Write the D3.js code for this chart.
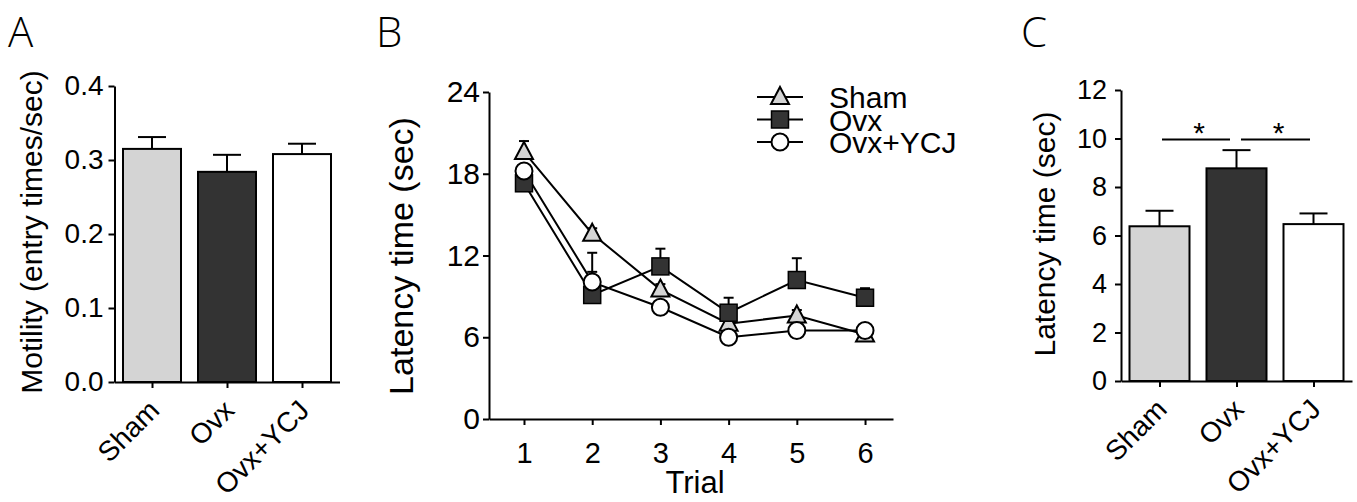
<!DOCTYPE html>
<html>
<head>
<meta charset="utf-8">
<script src="https://cdn.jsdelivr.net/npm/d3@7"></script>
<style>
  body { margin: 0; background: #fff; }
  svg { display: block; font-family: "Liberation Sans", Arial, sans-serif; }
</style>
</head>
<body>
<div id="chart"></div>
<script>
// Panel data
const groups = ["Sham", "Ovx", "Ovx+YCJ"];
const groupFill = ["#d4d4d4", "#333333", "#ffffff"];

// A: motility
const motility = [0.315, 0.284, 0.308];
const motilityErr = [0.331, 0.307, 0.322];   // top of error bar
const motilityTicks = [0, 0.1, 0.2, 0.3, 0.4];

// B: latency over trials
const trials = [1, 2, 3, 4, 5, 6];
const shamLatency = [19.6, 13.6, 9.5, 7.0, 7.6, 6.2];
const shamLatencyErr = [20.4, 14.0, 9.9, 7.3, 8.0, 6.4];
const ovxLatency = [17.3, 9.1, 11.2, 7.8, 10.2, 8.9];
const ovxLatencyErr = [17.8, 10.8, 12.5, 8.9, 11.8, 9.6];
const ycjLatency = [18.2, 10.05, 8.2, 6.0, 6.5, 6.5];
const ycjLatencyErr = [18.6, 12.2, 8.5, 6.4, 6.8, 6.8];
const latencyTicks = [0, 6, 12, 18, 24];

// C: latency per group
const latency = [6.38, 8.77, 6.47];
const latencyErr = [7.02, 9.52, 6.91];
const latencyCTicks = [0, 2, 4, 6, 8, 10, 12];

const width = 1357;
const height = 502;

const svg = d3.select("#chart")
  .append("svg")
  .attr("width", width)
  .attr("height", height);

function styleAxis(g, size) {
  g.selectAll("path, line").attr("stroke", "#000").attr("stroke-width", 2);
  g.selectAll("text").attr("fill", "#000").style("font-size", size + "px");
  g.attr("font-family", null);
}

function panelLetter(x, text) {
  svg.append("text")
    .attr("x", x)
    .attr("y", 47)
    .style("font-family", "'Open Sans', 'Liberation Sans', sans-serif")
    .style("font-weight", 300)
    .style("font-size", "42px")
    .text(text);
}

function yLabel(x, y, size, text) {
  svg.append("text")
    .attr("transform", `translate(${x},${y}) rotate(-90)`)
    .attr("text-anchor", "middle")
    .style("font-size", size + "px")
    .text(text);
}

function barPanel(opts) {
  const x = d3.scalePoint().domain(groups).range(opts.xRange).padding(0.5);
  const y = d3.scaleLinear().domain(opts.yDomain).range(opts.yRange);

  // error bars (upward only)
  groups.forEach((g, i) => {
    svg.append("line")
      .attr("x1", x(g)).attr("x2", x(g))
      .attr("y1", y(opts.values[i])).attr("y2", y(opts.errs[i]))
      .attr("stroke", "#000").attr("stroke-width", 2);
    svg.append("line")
      .attr("x1", x(g) - 14).attr("x2", x(g) + 14)
      .attr("y1", y(opts.errs[i])).attr("y2", y(opts.errs[i]))
      .attr("stroke", "#000").attr("stroke-width", 2);
  });

  svg.selectAll(null)
    .data(opts.values)
    .enter()
    .append("rect")
    .attr("x", (d, i) => x(groups[i]) - opts.barW / 2)
    .attr("width", opts.barW)
    .attr("y", d => y(d))
    .attr("height", d => y(0) - y(d))
    .attr("fill", (d, i) => groupFill[i])
    .attr("stroke", "#000")
    .attr("stroke-width", 2);

  const yAxis = svg.append("g")
    .attr("transform", `translate(${opts.xRange[0]},0)`)
    .call(d3.axisLeft(y).tickValues(opts.ticks).tickFormat(opts.format)
      .tickSize(6).tickSizeOuter(0).tickPadding(opts.pad));
  styleAxis(yAxis, opts.tickFont);

  const xAxis = svg.append("g")
    .attr("transform", `translate(0,${y(0)})`)
    .call(d3.axisBottom(x).tickSize(6).tickSizeOuter(0).tickFormat(""));
  styleAxis(xAxis, opts.tickFont);

  groups.forEach(g => {
    svg.append("text")
      .attr("transform", `translate(${x(g) + 9},${y(0) + 30}) rotate(-45)`)
      .attr("text-anchor", "end")
      .style("font-size", "28px")
      .text(g);
  });
  return { x, y };
}

// ---------- Panel A ----------
panelLetter(8, "A");
barPanel({
  xRange: [114.5, 339.5], yDomain: [0, 0.4], yRange: [382, 86],
  values: motility, errs: motilityErr, ticks: motilityTicks,
  format: d3.format(".1f"), barW: 58, pad: 5, tickFont: 28
});
yLabel(42, 232, 30, "Motility (entry times/sec)");

// ---------- Panel B ----------
panelLetter(376, "B");
const xB = d3.scaleLinear().domain([0.487, 6.41]).range([489, 893]);
const yB = d3.scaleLinear().domain([0, 24]).range([419, 92]);

const series = [
  { name: "Sham", values: shamLatency, errs: shamLatencyErr, shape: "triangle", fill: "#d4d4d4" },
  { name: "Ovx", values: ovxLatency, errs: ovxLatencyErr, shape: "square", fill: "#333333" },
  { name: "Ovx+YCJ", values: ycjLatency, errs: ycjLatencyErr, shape: "circle", fill: "#ffffff" }
];

const line = d3.line()
  .x((d, i) => xB(trials[i]))
  .y(d => yB(d));

series.forEach(s => {
  svg.append("path")
    .datum(s.values)
    .attr("d", line)
    .attr("fill", "none")
    .attr("stroke", "#000")
    .attr("stroke-width", 2);
});

series.forEach(s => {
  s.values.forEach((v, i) => {
    const cx = xB(trials[i]);
    svg.append("line")
      .attr("x1", cx).attr("x2", cx)
      .attr("y1", yB(v)).attr("y2", yB(s.errs[i]))
      .attr("stroke", "#000").attr("stroke-width", 2);
    svg.append("line")
      .attr("x1", cx - 5).attr("x2", cx + 5)
      .attr("y1", yB(s.errs[i])).attr("y2", yB(s.errs[i]))
      .attr("stroke", "#000").attr("stroke-width", 2);
  });
});

function marker(shape, cx, cy, fill) {
  if (shape === "square") {
    svg.append("rect")
      .attr("x", cx - 8.5).attr("y", cy - 8.5)
      .attr("width", 17).attr("height", 17)
      .attr("fill", fill).attr("stroke", "#000").attr("stroke-width", 1.5);
  } else if (shape === "circle") {
    svg.append("circle")
      .attr("cx", cx).attr("cy", cy).attr("r", 8.5)
      .attr("fill", fill).attr("stroke", "#000").attr("stroke-width", 2);
  } else {
    svg.append("path")
      .attr("d", `M${cx},${cy - 10}L${cx + 9},${cy + 7}L${cx - 9},${cy + 7}Z`)
      .attr("fill", fill).attr("stroke", "#000").attr("stroke-width", 2);
  }
}

series.forEach(s => {
  s.values.forEach((v, i) => marker(s.shape, xB(trials[i]), yB(v), s.fill));
});

const yAxisB = svg.append("g")
  .attr("transform", `translate(489,0)`)
  .call(d3.axisLeft(yB).tickValues(latencyTicks).tickSize(6).tickSizeOuter(0).tickPadding(3));
styleAxis(yAxisB, 30);

const xAxisB = svg.append("g")
  .attr("transform", `translate(0,419)`)
  .call(d3.axisBottom(xB).tickValues(trials).tickFormat(d3.format("d"))
    .tickSize(6).tickSizeOuter(0).tickPadding(17));
styleAxis(xAxisB, 29);

svg.append("text")
  .attr("x", 695)
  .attr("y", 493)
  .attr("text-anchor", "middle")
  .style("font-size", "31px")
  .text("Trial");

yLabel(413, 256, 34, "Latency time (sec)");

// legend
series.forEach((s, i) => {
  const ly = 97 + i * 22.5;
  svg.append("line")
    .attr("x1", 757).attr("x2", 803)
    .attr("y1", ly).attr("y2", ly)
    .attr("stroke", "#000").attr("stroke-width", 2);
  marker(s.shape, 780, ly, s.fill);
  svg.append("text")
    .attr("x", 829)
    .attr("y", ly + 11)
    .style("font-size", "30px")
    .text(s.name);
});

// ---------- Panel C ----------
panelLetter(1021, "C");
const c = barPanel({
  xRange: [1121, 1352], yDomain: [0, 12], yRange: [381, 90],
  values: latency, errs: latencyErr, ticks: latencyCTicks,
  format: d3.format("d"), barW: 60, pad: 8, tickFont: 27
});
yLabel(1055, 234, 30, "Latency time (sec)");

// significance brackets
const sigPairs = [[1162, 1230], [1241, 1310]];
sigPairs.forEach(p => {
  svg.append("line")
    .attr("x1", p[0]).attr("x2", p[1])
    .attr("y1", c.y(9.96)).attr("y2", c.y(9.96))
    .attr("stroke", "#000").attr("stroke-width", 2);
  svg.append("text")
    .attr("x", (p[0] + p[1]) / 2 + 3)
    .attr("y", c.y(9.96) + 4)
    .attr("text-anchor", "middle")
    .style("font-size", "30px")
    .text("*");
});
</script>
</body>
</html>
